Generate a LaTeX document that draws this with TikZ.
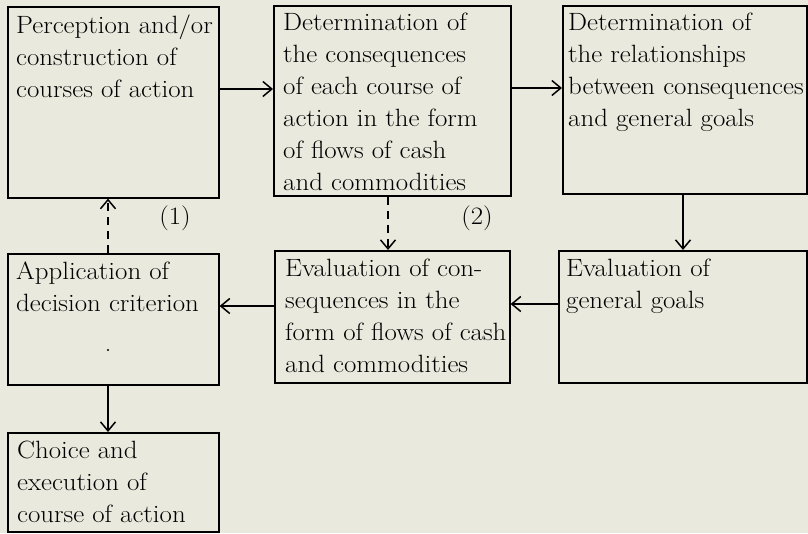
\documentclass[tikz,border=0pt]{standalone}
\usepackage{fontspec}
\setmainfont{Latin Modern Roman}[FakeStretch=1.075]
\usetikzlibrary{arrows.meta,calc}
\definecolor{paper}{RGB}{233,233,222}
\begin{document}
\begin{tikzpicture}[x=1pt,y=-1pt,
  box/.style={draw=black,line width=1.6pt,rectangle,inner sep=0pt,anchor=north west},
  txt/.style={anchor=north west,inner sep=0pt,align=left,font=\fontsize{25}{32}\selectfont},
  arr/.style={line width=1.5pt,-{Straight Barb[length=9pt,width=15pt,line width=1.5pt]}},
  darr/.style={arr,dash pattern=on 8pt off 6pt},
  lbl/.style={inner sep=0pt,font=\fontsize{25}{32}\selectfont}]
\fill[paper] (0,0) rectangle (808,533);
\useasboundingbox (0,0) rectangle (808,533);
% boxes
\node[box,minimum width=211pt,minimum height=191pt] (b1) at (7,6) {};
\node[box,minimum width=237pt,minimum height=190pt] (b2) at (273,5) {};
\node[box,minimum width=244pt,minimum height=188pt] (b3) at (562,5) {};
\node[box,minimum width=211pt,minimum height=131pt] (b4) at (7,253) {};
\node[box,minimum width=235pt,minimum height=132pt] (b5) at (274,250) {};
\node[box,minimum width=248pt,minimum height=132pt] (b6) at (558,250) {};
\node[box,minimum width=211pt,minimum height=99pt] (b7) at (7,432) {};
% texts
\node[txt] (t1) at ($(b1.north west)+(9,9)$) {Perception and/or\\construction of\\courses of action};
\node[txt] (t2) at ($(b2.north west)+(10,8)$) {Determination of\\the consequences\\of each course of\\action in the form\\of flows of cash\\and commodities};
\node[txt] (t3) at ($(b3.north west)+(6,8)$) {Determination of\\the relationships\\between consequences\\and general goals};
\node[txt] (t4) at ($(b4.north west)+(9,9)$) {Application of\\decision criterion};
\node[txt] (t5) at ($(b5.north west)+(11,9)$) {Evaluation of con-\\sequences in the\\form of flows of cash\\and commodities};
\node[txt] (t6) at ($(b6.north west)+(8,9)$) {Evaluation of\\general goals};
\node[txt] (t7) at ($(b7.north west)+(10,9)$) {Choice and\\execution of\\course of action};
% labels
\node[lbl] (l1) at (175,218) {(1)};
\node[lbl] (l2) at (477,218) {(2)};
% guide coordinates
\coordinate (r1) at (0,89);
\coordinate (r2) at (0,88);
\coordinate (r3) at (0,304);
\coordinate (r4) at (0,306);
\coordinate (c1) at (108,0);
\coordinate (c2) at (388,0);
\coordinate (c3) at (683,0);
% connectors
\draw[arr] (b1.east |- r1) -- (b2.west |- r1);
\draw[arr] (b2.east |- r2) -- (b3.west |- r2);
\draw[arr] (b3.south -| c3) -- (b6.north -| c3);
\draw[arr] (b6.west |- r3) -- (b5.east |- r3);
\draw[arr] (b5.west |- r4) -- (b4.east |- r4);
\draw[arr] (b4.south -| c1) -- (b7.north -| c1);
\draw[darr] (b4.north -| c1) -- (b1.south -| c1);
\draw[darr] (b2.south -| c2) -- (b5.north -| c2);
% small speck
\fill (108,350) circle (1.1pt);
\end{tikzpicture}
\end{document}
